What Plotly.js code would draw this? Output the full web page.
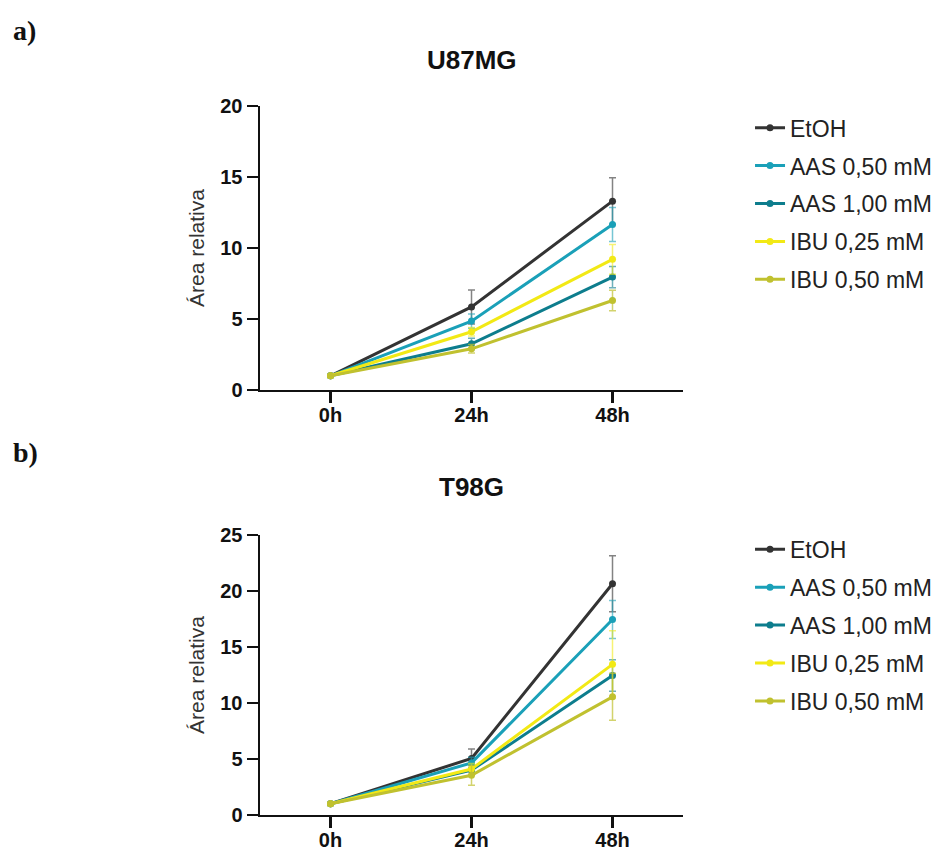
<!DOCTYPE html>
<html>
<head>
<meta charset="utf-8">
<script src="https://cdn.plot.ly/plotly-3.0.1.min.js"></script>
<style>html,body{margin:0;padding:0;background:#fff;} #chart{width:940px;height:850px;}</style>
</head>
<body>
<div id="chart"></div>
<script>
// ---- data ----
const timepoints = ['0h', '24h', '48h'];
const seriesNames = ['EtOH', 'AAS 0,50 mM', 'AAS 1,00 mM', 'IBU 0,25 mM', 'IBU 0,50 mM'];
const seriesColors = ['#333333', '#1aa0b8', '#0d7d8d', '#f2e915', '#c0c12f'];
const errorColors = ['rgba(90,90,90,0.75)', 'rgba(26,160,184,0.6)', 'rgba(13,125,141,0.6)', 'rgba(242,233,21,0.6)', 'rgba(192,193,47,0.7)'];

// U87MG
const u87_EtOH   = [1, 5.85, 13.3];
const u87_AAS050 = [1, 4.85, 11.65];
const u87_AAS100 = [1, 3.25, 7.95];
const u87_IBU025 = [1, 4.1, 9.2];
const u87_IBU050 = [1, 2.9, 6.3];
const u87_err_EtOH   = [0.05, 1.2, 1.65];
const u87_err_AAS050 = [0.05, 0.5, 1.2];
const u87_err_AAS100 = [0.05, 0.4, 0.75];
const u87_err_IBU025 = [0.05, 0.3, 1.05];
const u87_err_IBU050 = [0.05, 0.3, 0.72];

// T98G
const t98_EtOH   = [1, 5.05, 20.65];
const t98_AAS050 = [1, 4.65, 17.45];
const t98_AAS100 = [1, 4.0, 12.45];
const t98_IBU025 = [1, 4.1, 13.45];
const t98_IBU050 = [1, 3.55, 10.55];
const t98_err_EtOH   = [0.05, 0.85, 2.5];
const t98_err_AAS050 = [0.05, 0.5, 1.7];
const t98_err_AAS100 = [0.05, 0.4, 1.4];
const t98_err_IBU025 = [0.05, 0.5, 3.0];
const t98_err_IBU050 = [0.05, 0.9, 2.1];

const u87Values = [u87_EtOH, u87_AAS050, u87_AAS100, u87_IBU025, u87_IBU050];
const u87Errors = [u87_err_EtOH, u87_err_AAS050, u87_err_AAS100, u87_err_IBU025, u87_err_IBU050];
const t98Values = [t98_EtOH, t98_AAS050, t98_AAS100, t98_IBU025, t98_IBU050];
const t98Errors = [t98_err_EtOH, t98_err_AAS050, t98_err_AAS100, t98_err_IBU025, t98_err_IBU050];

const traces = [];
function addPanel(values, errors, xa, ya, legendId, groupPrefix) {
  values.forEach((v, i) => {
    traces.push({
      type: 'scatter', mode: 'lines+markers',
      x: timepoints, y: v, name: seriesNames[i],
      xaxis: xa, yaxis: ya, legend: legendId,
      legendgroup: groupPrefix + i,
      line: {color: seriesColors[i], width: 3},
      marker: {color: seriesColors[i], size: 7},
      error_y: {type: 'data', array: errors[i], visible: true, color: errorColors[i], thickness: 1.5, width: 3.5}
    });
  });
}
addPanel(u87Values, u87Errors, 'x', 'y', 'legend', 'a');
addPanel(t98Values, t98Errors, 'x2', 'y2', 'legend2', 'b');

const tickFont = {family: 'Liberation Sans, Arial, sans-serif', size: 20, color: '#111', weight: 'bold'};
function xAxis(domain, anchor) {
  return {
    domain: domain, anchor: anchor, type: 'category', categoryarray: timepoints,
    range: [-0.5, 2.5], showgrid: false, zeroline: false,
    showline: true, linecolor: '#111', linewidth: 2.5,
    ticks: 'outside', ticklen: 11, tickwidth: 2.5, tickcolor: '#111',
    ticklabelstandoff: -5,
    tickfont: tickFont, fixedrange: true
  };
}
function yAxis(domain, anchor, maxv) {
  return {
    domain: domain, anchor: anchor, range: [0, maxv], dtick: 5, tick0: 0,
    showgrid: false, zeroline: false,
    showline: true, linecolor: '#111', linewidth: 2.5,
    ticks: 'outside', ticklen: 11, tickwidth: 2.5, tickcolor: '#111',
    tickfont: tickFont,
    title: {text: 'Área relativa', font: {family: 'Liberation Sans, Arial, sans-serif', size: 21, color: '#333'}, standoff: 10}
  };
}
const legendStyle = (y) => ({
  x: 0.7979, xanchor: 'left', y: y, yanchor: 'top',
  font: {family: 'Liberation Sans, Arial, sans-serif', size: 23, color: '#222'},
  traceorder: 'grouped', tracegroupgap: 5, bgcolor: 'rgba(0,0,0,0)'
});

const layout = {
  width: 940, height: 850,
  margin: {l: 0, r: 0, t: 0, b: 0},
  paper_bgcolor: '#fff', plot_bgcolor: '#fff',
  showlegend: true,
  xaxis: xAxis([0.2766, 0.7266], 'y'),
  yaxis: yAxis([0.5412, 0.8753], 'x', 20),
  xaxis2: xAxis([0.2766, 0.7266], 'y2'),
  yaxis2: yAxis([0.0412, 0.3706], 'x2', 25),
  legend: legendStyle(0.875),
  legend2: legendStyle(0.379),
  annotations: [
    {text: 'U87MG', xref: 'paper', yref: 'paper', x: 0.5016, y: 0.9294, xanchor: 'center', yanchor: 'middle', showarrow: false,
     font: {family: 'Liberation Sans, Arial, sans-serif', size: 26, color: '#111', weight: 'bold'}},
    {text: 'T98G', xref: 'paper', yref: 'paper', x: 0.5016, y: 0.4271, xanchor: 'center', yanchor: 'middle', showarrow: false,
     font: {family: 'Liberation Sans, Arial, sans-serif', size: 26, color: '#111', weight: 'bold'}},
    {text: 'a)', xref: 'paper', yref: 'paper', x: 0.012, y: 0.9647, xanchor: 'left', yanchor: 'middle', showarrow: false,
     font: {family: 'Liberation Serif, Times New Roman, serif', size: 28, color: '#111', weight: 'bold'}},
    {text: 'b)', xref: 'paper', yref: 'paper', x: 0.012, y: 0.4682, xanchor: 'left', yanchor: 'middle', showarrow: false,
     font: {family: 'Liberation Serif, Times New Roman, serif', size: 28, color: '#111', weight: 'bold'}}
  ]
};

Plotly.newPlot('chart', traces, layout, {displayModeBar: false, staticPlot: true});
</script>
</body>
</html>
